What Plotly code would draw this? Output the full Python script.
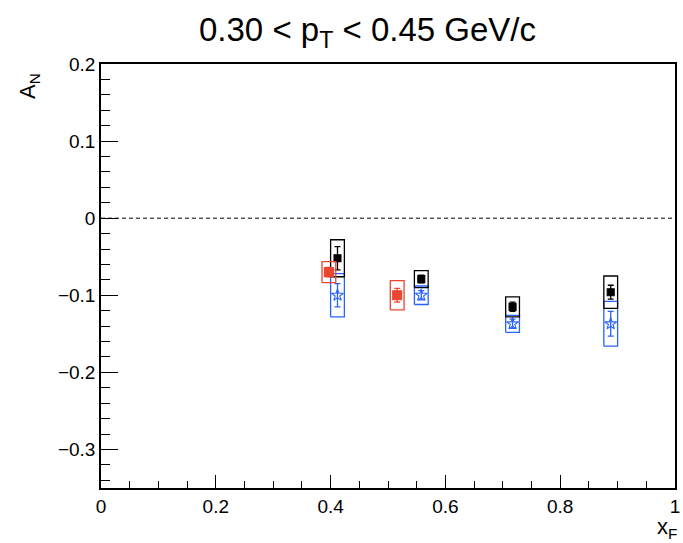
import plotly.graph_objects as go

# ---- data ----
black_x = [0.412, 0.558, 0.717, 0.888]
black_y = [-0.052, -0.079, -0.115, -0.096]
black_stat = [0.015, 0.005, 0.006, 0.009]
black_sys = [0.024, 0.011, 0.013, 0.021]

blue_x = [0.412, 0.558, 0.717, 0.888]
blue_y = [-0.100, -0.100, -0.137, -0.137]
blue_stat = [0.015, 0.006, 0.006, 0.016]
blue_sys = [0.028, 0.012, 0.011, 0.029]

red_x = [0.397, 0.516]
red_y = [-0.070, -0.100]
red_stat = [0.006, 0.009]
red_sys = [0.0136, 0.019]

box_half_width = 0.012

BLACK = "#000000"
BLUE = "#2a62ff"
RED = "#ec4530"

fig = go.Figure()


def add_boxes(xs, ys, syss, color):
    bx, by = [], []
    for x, y, s in zip(xs, ys, syss):
        x0, x1 = x - box_half_width, x + box_half_width
        y0, y1 = y - s, y + s
        bx += [x0, x1, x1, x0, x0, None]
        by += [y0, y0, y1, y1, y0, None]
    fig.add_trace(go.Scatter(x=bx, y=by, mode="lines",
                             line=dict(color=color, width=1.3),
                             hoverinfo="skip", showlegend=False))


def add_points(xs, ys, stats, color, symbol, size):
    fig.add_trace(go.Scatter(
        x=xs, y=ys, mode="markers",
        marker=dict(symbol=symbol, size=size, color=color,
                    line=dict(color=color, width=1.1)),
        error_y=dict(type="data", array=stats, visible=True,
                     color=color, thickness=1.3, width=3),
        showlegend=False))


add_boxes(blue_x, blue_y, blue_sys, BLUE)
add_points(blue_x, blue_y, blue_stat, BLUE, "star-open", 9)
add_boxes(black_x, black_y, black_sys, BLACK)
add_points(black_x, black_y, black_stat, BLACK, "square", 7)
add_boxes(red_x, red_y, red_sys, RED)
add_points(red_x, red_y, red_stat, RED, "square", 9)

fig.add_shape(type="line", xref="x", yref="y", x0=0, x1=1, y0=0, y1=0,
              line=dict(color="black", width=1, dash="4px,3px"))

font = "Liberation Sans, Arial, Helvetica, sans-serif"

fig.update_layout(
    width=683, height=543,
    margin=dict(l=101, r=3, t=64, b=55),
    paper_bgcolor="white", plot_bgcolor="white",
    font=dict(family=font, size=19, color="black"),
    showlegend=False,
    xaxis=dict(range=[0, 1], dtick=0.2, tick0=0,
               showgrid=False, zeroline=False,
               showline=True, mirror=True, linecolor="black", linewidth=1.5,
               ticks="inside", ticklen=13, tickwidth=1.3, tickcolor="black",
               ticklabeloverflow="allow",
               minor=dict(dtick=0.05, ticks="inside", ticklen=7,
                          tickwidth=1.3, tickcolor="black", showgrid=False),
               tickfont=dict(size=19)),
    yaxis=dict(range=[-0.35, 0.2], dtick=0.1, tick0=0,
               showgrid=False, zeroline=False,
               showline=True, mirror=True, linecolor="black", linewidth=1.5,
               ticks="inside", ticklen=17, tickwidth=1.3, tickcolor="black",
               minor=dict(dtick=0.02, ticks="inside", ticklen=9,
                          tickwidth=1.3, tickcolor="black", showgrid=False),
               tickfont=dict(size=19)),
    annotations=[
        dict(text="0.30 < p<sub>T</sub> < 0.45 GeV/c", xref="paper", yref="paper",
             x=0.465, y=1.0, yshift=32, xanchor="center", yanchor="middle",
             showarrow=False, font=dict(size=33, family=font)),
        dict(text="A<sub>N</sub>", xref="paper", yref="paper",
             x=0, y=1, xshift=-72, yshift=-22, textangle=-90,
             xanchor="center", yanchor="middle",
             showarrow=False, font=dict(size=22, family=font)),
        dict(text="x<sub>F</sub>", xref="paper", yref="paper",
             x=1, y=0, xshift=-8, yshift=-40,
             xanchor="center", yanchor="middle",
             showarrow=False, font=dict(size=22, family=font)),
    ],
)

fig.write_html("out.html")
